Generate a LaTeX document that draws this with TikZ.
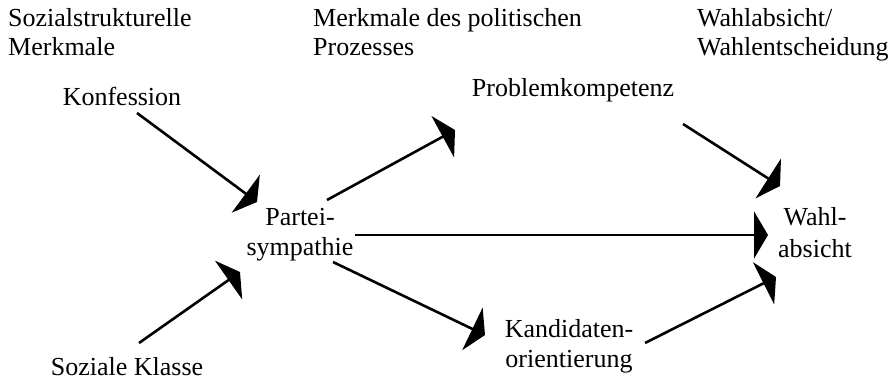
\documentclass[tikz,border=0pt]{standalone}
\usepackage{fontspec}
\setmainfont{Liberation Serif}
\usetikzlibrary{arrows.meta}
\begin{document}
\begin{tikzpicture}[x=1pt,y=-1pt,
  lbl/.style={inner sep=0pt,font=\fontsize{26}{30}\selectfont},
  hdr/.style={lbl,anchor=base west,align=left,font=\fontsize{26}{29}\selectfont},
  flow/.style={line width=2.6pt,-{Triangle[length=14pt,width=47pt]}}]
\useasboundingbox (0,0) rectangle (890,382);
% headers (anchor = baseline of the last line)
\node[hdr] (h1) at (8,56) {Sozialstrukturelle\\Merkmale};
\node[hdr] (h2) at (313,56) {Merkmale des politischen\\Prozesses};
\node[hdr] (h3) at (697,56) {Wahlabsicht/\\Wahlentscheidung};
% nodes
\node[lbl,anchor=base] (konf) at (122,106) {Konfession};
\node[lbl,anchor=base] (klasse) at (127,375) {Soziale Klasse};
\node[lbl,anchor=base,align=center] (partei) at (300,255) {Partei-\\sympathie};
\node[lbl,anchor=base] (problem) at (573,97) {Problemkompetenz};
\node[lbl,anchor=base,align=center] (kand) at (569,367) {Kandidaten-\\orientierung};
\node[lbl,anchor=base,align=center,font=\fontsize{26}{32}\selectfont] (wahl) at (815,257) {Wahl-\\absicht};
% connector end points
\coordinate (konf-o) at (137,113);
\coordinate (partei-i1) at (257,202);
\coordinate (klasse-o) at (139,343);
\coordinate (partei-i2) at (240,272);
\coordinate (partei-o1) at (327,200);
\coordinate (problem-i) at (455,130);
\coordinate (partei-o2) at (333,262);
\coordinate (kand-i) at (485,335);
\coordinate (partei-o3) at (355,235);
\coordinate (wahl-i2) at (768,235);
\coordinate (problem-o) at (683,124);
\coordinate (wahl-i1) at (780,186);
\coordinate (kand-o) at (645,343);
\coordinate (wahl-i3) at (776,277);
% connectors
\draw[flow] (konf-o) -- (partei-i1);
\draw[flow] (klasse-o) -- (partei-i2);
\draw[flow] (partei-o1) -- (problem-i);
\draw[flow] (partei-o2) -- (kand-i);
\draw[flow] (partei-o3) -- (wahl-i2);
\draw[flow] (problem-o) -- (wahl-i1);
\draw[flow] (kand-o) -- (wahl-i3);
\end{tikzpicture}
\end{document}
